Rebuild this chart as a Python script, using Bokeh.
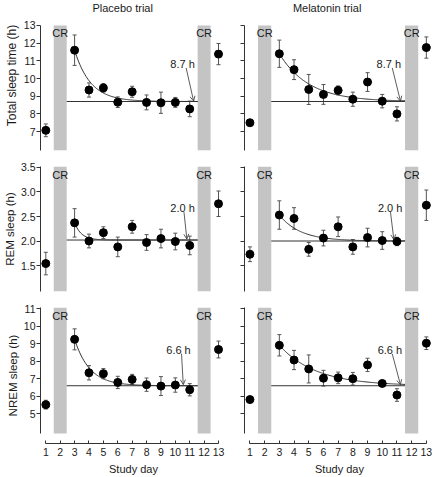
import numpy as np
from bokeh.plotting import figure
from bokeh.models import (ColumnDataSource, Whisker, TeeHead, Arrow, OpenHead,
                          FixedTicker, LinearAxis, Range1d, NumeralTickFormatter)
from bokeh.layouts import gridplot
from bokeh.embed import file_html
from bokeh.resources import INLINE
from bokeh.core.properties import value

# ---------------- data ----------------
days = [1, 3, 4, 5, 6, 7, 8, 9, 10, 11, 13]

tst_placebo = [7.07, 11.6, 9.35, 9.47, 8.66, 9.25, 8.65, 8.63, 8.65, 8.28, 11.38]
tst_placebo_err = [0.36, 0.86, 0.4, 0.24, 0.3, 0.31, 0.42, 0.6, 0.28, 0.44, 0.6]
tst_melatonin = [7.5, 11.4, 10.5, 9.38, 9.1, 9.33, 8.83, 9.8, 8.72, 8.0, 11.75]
tst_melatonin_err = [0.05, 0.77, 0.56, 0.85, 0.56, 0.25, 0.4, 0.53, 0.38, 0.4, 0.6]

rem_placebo = [1.54, 2.37, 2.0, 2.17, 1.88, 2.29, 1.97, 2.05, 1.99, 1.91, 2.76]
rem_placebo_err = [0.23, 0.29, 0.14, 0.12, 0.2, 0.13, 0.16, 0.19, 0.17, 0.19, 0.26]
rem_melatonin = [1.73, 2.53, 2.46, 1.83, 2.06, 2.29, 1.88, 2.07, 2.01, 1.99, 2.73]
rem_melatonin_err = [0.15, 0.29, 0.22, 0.14, 0.16, 0.2, 0.15, 0.19, 0.18, 0.085, 0.31]

nrem_placebo = [5.52, 9.25, 7.34, 7.29, 6.79, 6.96, 6.66, 6.58, 6.64, 6.37, 8.67]
nrem_placebo_err = [0.25, 0.6, 0.41, 0.29, 0.35, 0.29, 0.38, 0.54, 0.41, 0.35, 0.48]
nrem_melatonin = [5.81, 8.91, 8.07, 7.56, 7.03, 7.05, 7.0, 7.79, 6.73, 6.07, 9.03]
nrem_melatonin_err = [0.1, 0.61, 0.55, 0.8, 0.45, 0.33, 0.36, 0.38, 0.17, 0.36, 0.36]

# exponential fits: (plateau, value at day 3, rate per day)
tst_placebo_fit = (8.7, 11.6, 0.9)
tst_melatonin_fit = (8.7, 11.4, 0.5)
rem_placebo_fit = (2.02, 2.37, 2.1)
rem_melatonin_fit = (2.0, 2.53, 0.7)
nrem_placebo_fit = (6.6, 9.25, 0.95)
nrem_melatonin_fit = (6.6, 8.91, 0.4)

plateau_labels = ["8.7 h", "2.0 h", "6.6 h"]
cr_days = [2, 12]
cr_text = ["CR", "CR"]
fit_start_day = 3

x_ticks = list(range(1, 14))
tst_ticks = [7, 8, 9, 10, 11, 12, 13]
rem_ticks = [1.5, 2.0, 2.5, 3.0, 3.5]
nrem_ticks = [5, 6, 7, 8, 9, 10, 11]

col_titles = ["Placebo trial", "Melatonin trial"]
row_labels = ["Total sleep time (h)", "REM sleep (h)", "NREM sleep (h)"]
x_label = "Study day"

# ---------------- layout / style ----------------
FONT = "Liberation Sans"
PX_PER_DAY = 14.7
FRAME_W = 190
X0 = 0.63
X1 = X0 + FRAME_W / PX_PER_DAY
CR_HALF = 0.45

cols = [dict(width=236, mbl=36, mbr=10, title_x=6.34),
        dict(width=205, mbl=8, mbr=7, title_x=6.25)]

rows = [
    # top row: frame reaches the top of the figure so the column titles sit inside it
    dict(height=158, mbt=0, mbb=8, yr=(5.93, 14.41), bars=(5.93, 13.0), title_y=13.97,
         ticks=tst_ticks, fmt="0", label_size="12px",
         series=[(tst_placebo, tst_placebo_err, tst_placebo_fit),
                 (tst_melatonin, tst_melatonin_err, tst_melatonin_fit)],
         text_pos=[(10.5, 10.82), (10.45, 10.82)],
         arrows=[((10.75, 10.6), (11.27, 8.72)), ((10.68, 10.6), (11.24, 8.72))]),
    dict(height=141, mbt=8, mbb=8, yr=(0.97, 3.52), bars=(0.97, 3.52),
         ticks=rem_ticks, fmt="0.0", label_size="11.5px",
         series=[(rem_placebo, rem_placebo_err, rem_placebo_fit),
                 (rem_melatonin, rem_melatonin_err, rem_melatonin_fit)],
         text_pos=[(10.5, 2.68), (10.54, 2.68)],
         arrows=[((10.6, 2.59), (10.8, 2.04)), ((10.56, 2.59), (10.79, 2.03))]),
    dict(height=178, mbt=8, mbb=34, yr=(3.30, 11.07), bars=(3.87, 11.07),
         ticks=nrem_ticks, fmt="0", label_size="11.5px",
         series=[(nrem_placebo, nrem_placebo_err, nrem_placebo_fit),
                 (nrem_melatonin, nrem_melatonin_err, nrem_melatonin_fit)],
         text_pos=[(10.22, 8.63), (10.52, 8.65)],
         arrows=[((10.43, 8.43), (10.55, 6.66)), ((10.68, 8.42), (11.24, 6.66))]),
]

INK = "#1a1a1a"
LINE = "#333333"
ERR = "#555555"
BAR = "#c4c4c4"

grid = []
for ri, r in enumerate(rows):
    row_figs = []
    last = ri == len(rows) - 1
    for ci, c in enumerate(cols):
        vals, errs, fit = r["series"][ci]
        p = figure(width=c["width"], height=r["height"], output_backend="svg",
                   toolbar_location=None, x_range=Range1d(X0, X1),
                   y_range=Range1d(*r["yr"]), x_axis_location=None,
                   min_border_left=c["mbl"], min_border_right=c["mbr"],
                   min_border_top=r["mbt"], min_border_bottom=r["mbb"])
        p.outline_line_color = None
        p.xgrid.visible = False
        p.ygrid.visible = False
        p.background_fill_color = "white"
        p.border_fill_color = "white"

        if ri == 0:
            p.text(x=[c["title_x"]], y=[r["title_y"]], text=[col_titles[ci]],
                   text_align="center", text_baseline="middle",
                   text_font=value(FONT), text_font_size="11px", text_color=INK)

        # y axis
        ya = p.yaxis[0]
        ya.ticker = FixedTicker(ticks=r["ticks"])
        ya.formatter = NumeralTickFormatter(format=r["fmt"])
        ya.bounds = r["bars"]
        ya.major_tick_out = 4
        ya.major_tick_in = 0
        ya.minor_tick_out = 0
        ya.minor_tick_in = 0
        ya.major_label_standoff = 1
        ya.major_label_text_font = FONT
        ya.major_label_text_font_size = "10.5px"
        ya.major_label_text_color = INK
        ya.axis_line_color = LINE
        ya.major_tick_line_color = LINE
        if ci == 0:
            ya.axis_label = row_labels[ri]
            ya.axis_label_standoff = 2
            ya.axis_label_text_font = FONT
            ya.axis_label_text_font_size = r["label_size"]
            ya.axis_label_text_font_style = "normal"
            ya.axis_label_text_color = INK
        else:
            ya.major_label_overrides = {t: "" for t in r["ticks"]}
            ya.major_label_standoff = 0

        # x axis only on bottom row
        if last:
            xa = LinearAxis(ticker=FixedTicker(ticks=x_ticks), bounds=(x_ticks[0], x_ticks[-1]),
                            axis_label=x_label)
            xa.major_tick_in = 3
            xa.major_tick_out = 0
            xa.minor_tick_in = 0
            xa.minor_tick_out = 0
            xa.major_label_standoff = 4
            xa.axis_label_standoff = 4
            xa.major_label_text_font = FONT
            xa.major_label_text_font_size = "10.5px"
            xa.major_label_text_color = INK
            xa.axis_label_text_font = FONT
            xa.axis_label_text_font_size = "11px"
            xa.axis_label_text_font_style = "normal"
            xa.axis_label_text_color = INK
            xa.axis_line_color = LINE
            xa.major_tick_line_color = LINE
            p.add_layout(xa, "below")

        # constant routine bars
        p.vbar(x=cr_days, width=2 * CR_HALF, bottom=r["bars"][0], top=r["bars"][1],
               fill_color=BAR, line_color=None)
        p.text(x=cr_days, y=[r["bars"][1]] * len(cr_days), text=cr_text,
               text_align="center", text_baseline="top", y_offset=2,
               text_font=value(FONT), text_font_size="11px", text_color=INK)

        # plateau line and exponential fit
        plateau, start, rate = fit
        x_lo = cr_days[0] + CR_HALF
        x_hi = cr_days[1] - CR_HALF
        p.segment(x0=[x_lo], x1=[x_hi], y0=[plateau], y1=[plateau],
                  line_color=LINE, line_width=1)
        xs = np.linspace(fit_start_day, x_hi, 120)
        ys = plateau + (start - plateau) * np.exp(-rate * (xs - fit_start_day))
        p.line(xs, ys, line_color=LINE, line_width=1)

        # error bars and means
        v = np.array(vals)
        e = np.array(errs)
        src = ColumnDataSource(dict(x=days, y=vals, lo=v - e, hi=v + e))
        p.add_layout(Whisker(source=src, base="x", lower="lo", upper="hi",
                             line_color=ERR, line_width=1,
                             lower_head=TeeHead(size=4, line_color=ERR, line_width=1),
                             upper_head=TeeHead(size=4, line_color=ERR, line_width=1)))
        p.scatter(x="x", y="y", source=src, size=8, fill_color="black", line_color="black")

        # plateau label and arrow
        tx, ty = r["text_pos"][ci]
        p.text(x=[tx], y=[ty], text=[plateau_labels[ri]], text_align="center",
               text_baseline="middle", text_font=value(FONT), text_font_size="11px",
               text_color=INK)
        (ax0, ay0), (ax1, ay1) = r["arrows"][ci]
        p.add_layout(Arrow(x_start=ax0, y_start=ay0, x_end=ax1, y_end=ay1,
                           line_color=LINE, line_width=0.8,
                           end=OpenHead(size=5, line_color=LINE, line_width=0.8)))
        row_figs.append(p)
    grid.append(row_figs)

layout = gridplot(grid, toolbar_location=None)
open("out.html", "w").write(file_html(layout, INLINE))
